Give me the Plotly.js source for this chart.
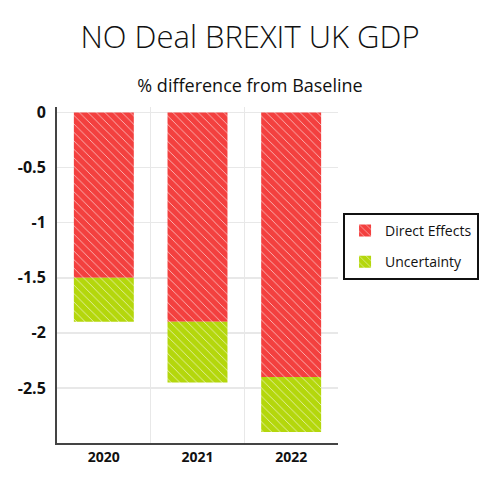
<!DOCTYPE html>
<html>
<head>
<meta charset="utf-8">
<script src="https://cdn.plot.ly/plotly-3.0.1.min.js"></script>
<style>
  html, body { margin: 0; padding: 0; background: #fff; }
  #chart { width: 500px; height: 500px; }
</style>
</head>
<body>
<div id="chart"></div>
<script>
// data
const years = ['2020', '2021', '2022']
const directEffects = [-1.5, -1.9, -2.4]
const uncertainty = [-0.4, -0.55, -0.5]
const yTicks = [0, -0.5, -1, -1.5, -2, -2.5]
const yTickLabels = ['0', '-0.5', '-1', '-1.5', '-2', '-2.5']

const RED = '#f3403f'
const GREEN = '#b4d70c'
const FONT = 'Open Sans, sans-serif'

function sketchPattern(color) {
    // hatch with pale streaks, a loose nod to the hand-drawn fill
    return {
        shape: '\\',
        bgcolor: color,
        fgcolor: 'rgba(255,255,255,0.8)',
        size: 6,
        solidity: 0.12
    }
}

const traces = [
    {
        x: years,
        y: directEffects,
        type: 'bar',
        name: 'Direct Effects',
        legendgroup: 'direct',
        marker: { color: RED, pattern: sketchPattern(RED), line: { width: 0 } },
        hovertemplate: '%{x}: %{y}<extra>Direct Effects</extra>'
    },
    {
        x: years,
        y: uncertainty,
        type: 'bar',
        name: 'Uncertainty',
        legendgroup: 'unc',
        marker: { color: GREEN, pattern: sketchPattern(GREEN), line: { width: 0 } },
        hovertemplate: '%{x}: %{y}<extra>Uncertainty</extra>'
    }
]

const layout = {
    width: 500,
    height: 500,
    barmode: 'relative',
    bargap: 0.36,
    title: {
        text: 'NO Deal BREXIT UK GDP',
        font: { family: FONT, size: 31, color: '#111', weight: 300 },
        x: 0.5,
        xanchor: 'center',
        y: 0.925,
        yanchor: 'middle',
        subtitle: {
            text: '% difference from Baseline',
            font: { family: FONT, size: 18, color: '#111' }
        }
    },
    xaxis: {
        type: 'category',
        tickson: 'boundaries',
        showgrid: true,
        gridcolor: '#e8e8e8',
        gridwidth: 1.5,
        showline: true,
        linecolor: '#444',
        linewidth: 2,
        ticks: '',
        tickfont: { family: FONT, size: 14, color: '#111', weight: 'bold' },
        fixedrange: true
    },
    yaxis: {
        range: [-3.0, 0.05],
        tickvals: yTicks,
        ticktext: yTickLabels,
        showgrid: true,
        gridcolor: '#e8e8e8',
        gridwidth: 1.5,
        zeroline: false,
        showline: true,
        linecolor: '#444',
        linewidth: 2,
        ticks: '',
        ticklabelstandoff: 6,
        tickfont: { family: FONT, size: 16, color: '#111', weight: 'bold' },
        fixedrange: true
    },
    legend: {
        x: 1.018,
        xanchor: 'left',
        y: 0.685,
        yanchor: 'top',
        traceorder: 'grouped',
        tracegroupgap: 10,
        bgcolor: '#fff',
        bordercolor: '#111',
        borderwidth: 2,
        font: { family: FONT, size: 14, color: '#111' },
        itemwidth: 30
    },
    margin: { l: 57, r: 162, t: 107, b: 57 },
    paper_bgcolor: '#fff',
    plot_bgcolor: '#fff',
    showlegend: true
}

Plotly.newPlot('chart', traces, layout, { displayModeBar: false, staticPlot: true })
</script>
</body>
</html>
